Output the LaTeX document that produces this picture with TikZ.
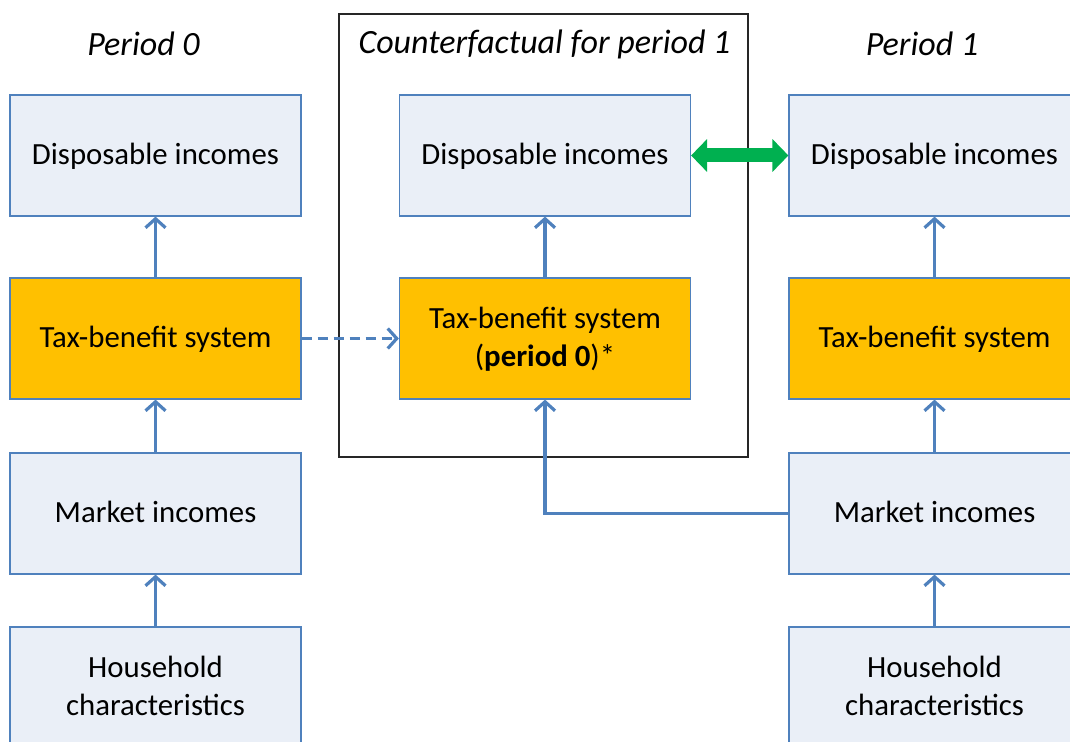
\documentclass[tikz,border=0pt]{standalone}
\usepackage{fontspec}
\setmainfont{Carlito}
\usetikzlibrary{arrows.meta}

\definecolor{boxblue}{RGB}{79,129,189}
\definecolor{boxfill}{RGB}{234,239,247}
\definecolor{taxorange}{RGB}{255,192,0}
\definecolor{compgreen}{RGB}{0,176,80}

\tikzset{
  stage/.style={draw=boxblue, line width=0.6pt, fill=boxfill, minimum width=145.5pt,
    minimum height=60.5pt, inner sep=0pt, align=center, font=\fontsize{15.4}{19}\selectfont,
    text depth=1.5pt},
  taxbox/.style={stage, fill=taxorange},
  period/.style={font=\fontsize{17}{20}\selectfont\itshape},
  flow/.style={draw=boxblue, line width=1.6pt, -{Straight Barb[length=4.5pt,width=10pt]}},
  compare/.style={draw=compgreen, line width=7pt,
    {Triangle[length=8pt,width=16pt]}-{Triangle[length=8pt,width=16pt]}},
}

\begin{document}
\begin{tikzpicture}[x=0.5pt, y=-0.5pt]
  \useasboundingbox (0,0) rectangle (1070,742);

  % counterfactual frame
  \draw [black!85, line width=0.6pt] (339,14) rectangle (748,457);

  % titles
  \node [period] (titleA) at (143.5,44) {Period 0};
  \node [period] (titleC) at (544.5,44) {Counterfactual for period 1};
  \node [period] (titleB) at (922,44) {Period 1};

  % period 0
  \node [stage]  (dispA)  at (155.5,155.5) {Disposable incomes};
  \node [taxbox] (taxA)   at (155.5,338.5) {Tax-benefit system};
  \node [stage]  (markA)  at (155.5,513.5) {Market incomes};
  \node [stage]  (houseA) at (155.5,687.5) {Household\\characteristics};

  % counterfactual
  \node [stage]  (dispC) at (545,155.5) {Disposable incomes};
  \node [taxbox] (taxC)  at (545,338.5) {Tax-benefit system\\(\textbf{period 0})*};

  % period 1
  \node [stage]  (dispB)  at (934.5,155.5) {Disposable incomes};
  \node [taxbox] (taxB)   at (934.5,338.5) {Tax-benefit system};
  \node [stage]  (markB)  at (934.5,513.5) {Market incomes};
  \node [stage]  (houseB) at (934.5,687.5) {Household\\characteristics};

  % |
  \draw [flow] (houseA) -- (markA);
  \draw [flow] (markA) -- (taxA);
  \draw [flow] (taxA) -- (dispA);
  \draw [flow] (taxC) -- (dispC);
  \draw [flow] (houseB) -- (markB);
  \draw [flow] (markB) -- (taxB);
  \draw [flow] (taxB) -- (dispB);

  % -
  \draw [flow, dash pattern=on 5pt off 3pt] (taxA) -- (taxC);
  \draw [flow] (markB.west) -| (taxC.south);
  \draw [compare] (dispC) -- (dispB);
\end{tikzpicture}
\end{document}
